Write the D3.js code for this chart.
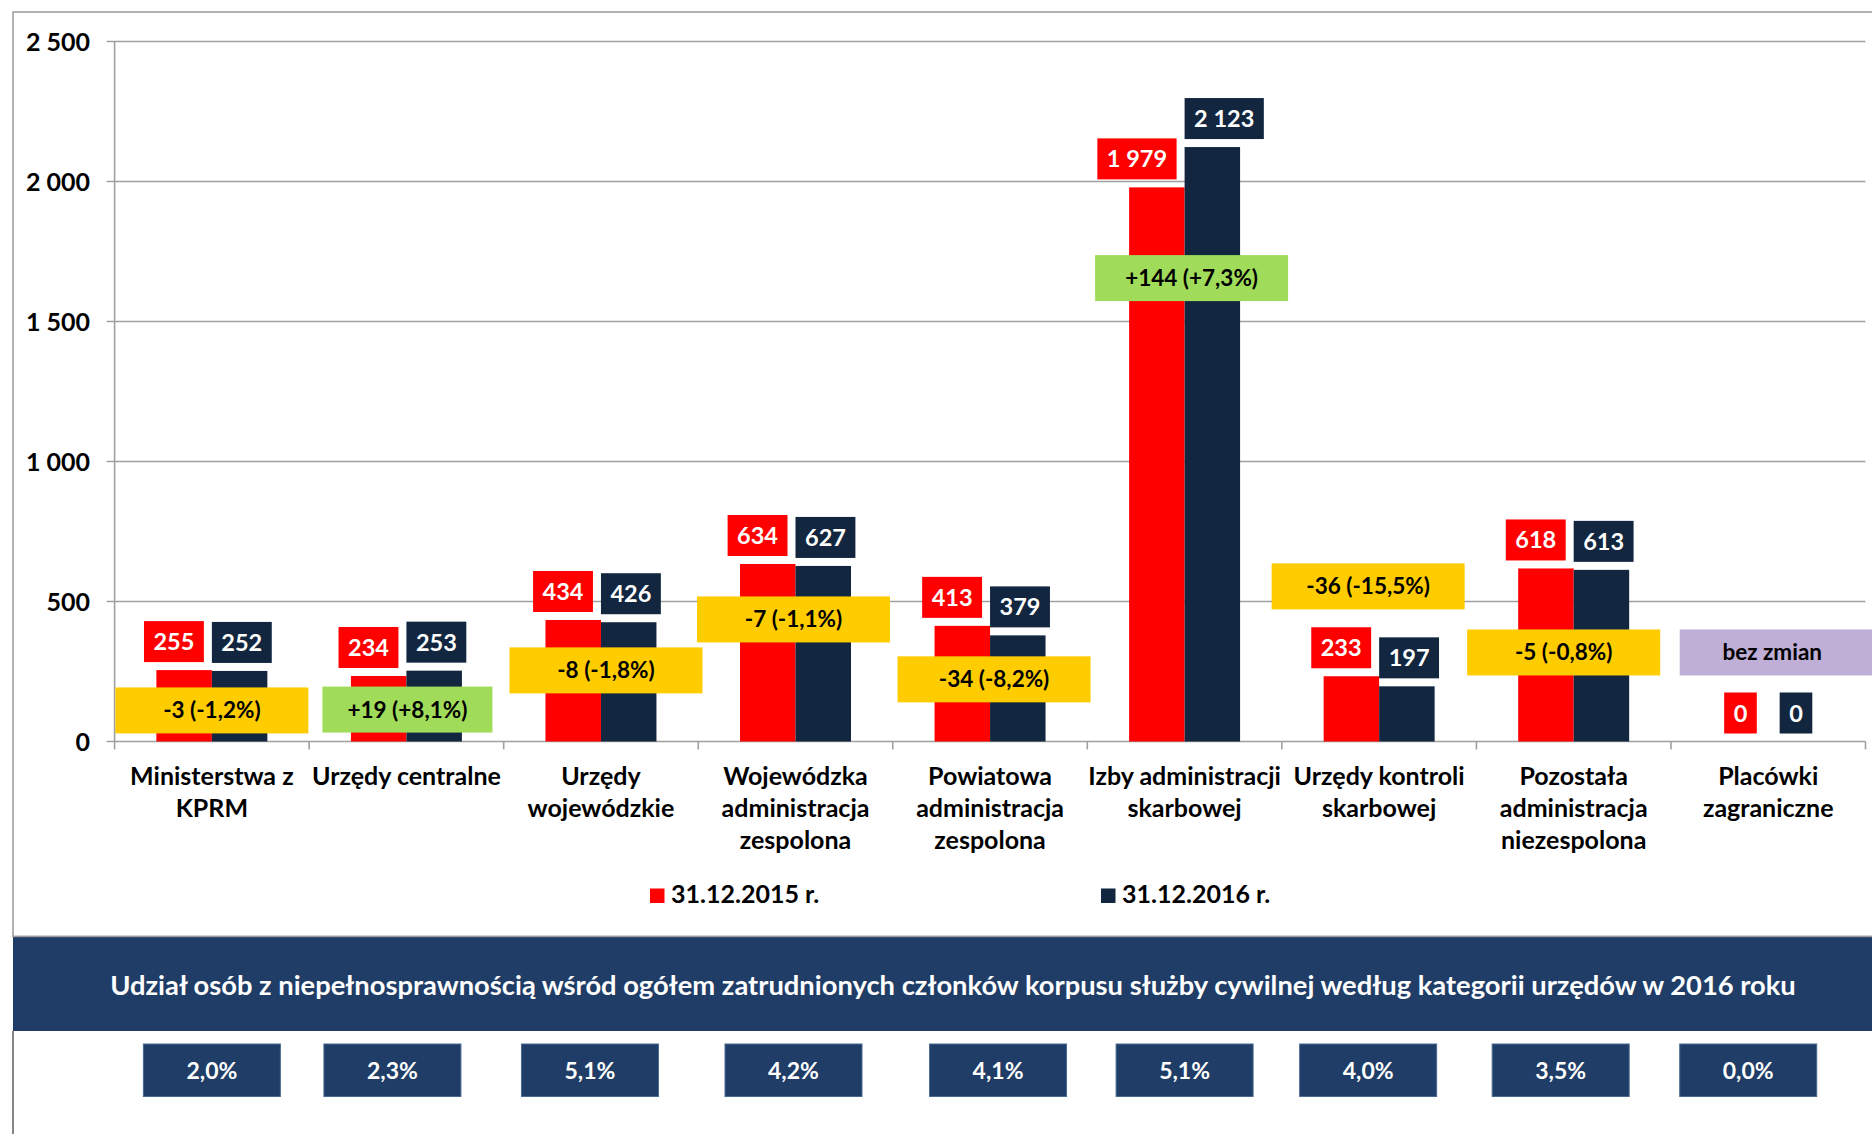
<!DOCTYPE html>
<html>
<head>
<meta charset="utf-8">
<script src="https://cdn.jsdelivr.net/npm/d3@7"></script>
<style>
  html, body { margin: 0; padding: 0; background: #fff; }
  svg { display: block; }
  text { font-family: Lato, "Open Sans", "DejaVu Sans", sans-serif; font-weight: 700; }
</style>
</head>
<body>
<svg id="chart" width="1872" height="1134"></svg>
<script>
// ---------------- DATA ----------------
const categories = [
  "Ministerstwa z\nKPRM",
  "Urzędy centralne",
  "Urzędy\nwojewódzkie",
  "Wojewódzka\nadministracja\nzespolona",
  "Powiatowa\nadministracja\nzespolona",
  "Izby administracji\nskarbowej",
  "Urzędy kontroli\nskarbowej",
  "Pozostała\nadministracja\nniezespolona",
  "Placówki\nzagraniczne"
];
const seriesNames = ["31.12.2015 r.", "31.12.2016 r."];
const values2015 = [255, 234, 434, 634, 413, 1979, 233, 618, 0];
const values2016 = [252, 253, 426, 627, 379, 2123, 197, 613, 0];
// level (in data units) at which each change label is anchored in the original
const deltaAnchor = [111, 114, 254, 436, 222, 1655, 554, 318, 318];
const shares2016 = [2.0, 2.3, 5.1, 4.2, 4.1, 5.1, 4.0, 3.5, 0.0];
const yTicks = [0, 500, 1000, 1500, 2000, 2500];
const noChangeText = "bez zmian";
const bannerTitle = "Udział osób z niepełnosprawnością wśród ogółem zatrudnionych członków korpusu służby cywilnej według kategorii urzędów w 2016 roku";

// ---------------- STYLE / LAYOUT ----------------
const W = 1872, H = 1134;
const plot = { left: 114.6, right: 1865.5, top: 41.5, bottom: 741.5 };
const colors = { s2015: "#FF0000", s2016: "#12263F", grid: "#A0A0A0",
  up: "#A0DC5A", down: "#FFCC00", same: "#BFAED5", banner: "#1F3D66", bannerEdge: "#4B6A92" };
// hand placement nudges (px) of annotation boxes relative to the category centre
const deltaNudge = [0, 1, 5, -2, 4, 7, -11, -10, 8];
const shareNudge = [0, -14, -11, -2, 8, 0, -11, -13, -20];

const loc = d3.formatLocale({ decimal: ",", thousands: " ", grouping: [3], currency: ["", ""], minus: "-" });
const fmtInt = loc.format(",d");
const fmt1 = loc.format(".1f");

const svg = d3.select("#chart");

// chart frame
svg.append("rect").attr("x", 13).attr("y", 12).attr("width", W + 20).attr("height", 936.5 - 12)
  .attr("fill", "none").attr("stroke", "#9a9a9a").attr("stroke-width", 1.5);
svg.append("line").attr("x1", 13).attr("x2", 13).attr("y1", 1031).attr("y2", H)
  .attr("stroke", "#333").attr("stroke-width", 1.2);

// scales
const x = d3.scaleBand().domain(categories).range([plot.left, plot.right]).paddingInner(0).paddingOuter(0);
const x1 = d3.scaleBand().domain(seriesNames).range([0, x.bandwidth()]).paddingInner(0).paddingOuter(0.753);
const y = d3.scaleLinear().domain([0, 2500]).range([plot.bottom, plot.top]);

// gridlines
svg.append("g").selectAll("line").data(yTicks).join("line")
  .attr("x1", plot.left - 8).attr("x2", plot.right)
  .attr("y1", d => y(d)).attr("y2", d => y(d))
  .attr("stroke", colors.grid).attr("stroke-width", 1.6);

// y axis line
svg.append("line").attr("x1", plot.left).attr("x2", plot.left)
  .attr("y1", plot.top).attr("y2", plot.bottom + 8)
  .attr("stroke", colors.grid).attr("stroke-width", 1.6);

// y tick labels
svg.append("g").selectAll("text").data(yTicks).join("text")
  .attr("x", 90).attr("y", d => y(d) + 9)
  .attr("text-anchor", "end").attr("font-size", 25).attr("fill", "#000")
  .text(d => fmtInt(d));

// category ticks
const boundaries = categories.map(c => x(c)).concat([x(categories[categories.length - 1]) + x.bandwidth()]);
svg.append("g").selectAll("line").data(boundaries.slice(1)).join("line")
  .attr("x1", d => d).attr("x2", d => d)
  .attr("y1", plot.bottom).attr("y2", plot.bottom + 8)
  .attr("stroke", colors.grid).attr("stroke-width", 1.6);

// bars
const rows = categories.map((c, i) => ({ c, i, v: [values2015[i], values2016[i]] }));
const gBars = svg.append("g");
rows.forEach(r => {
  seriesNames.forEach((s, k) => {
    const v = r.v[k];
    gBars.append("rect")
      .attr("x", x(r.c) + x1(s)).attr("width", x1.bandwidth())
      .attr("y", y(v)).attr("height", y(0) - y(v))
      .attr("fill", k === 0 ? colors.s2015 : colors.s2016);
  });
});

// value labels (boxes above bars)
const gVal = svg.append("g");
const valFont = 23.5, padX = 9.5, boxH = 41;
rows.forEach(r => {
  const pairCenter = x(r.c) + x.bandwidth() / 2;
  seriesNames.forEach((s, k) => {
    const v = r.v[k];
    const g = gVal.append("g");
    const t = g.append("text").attr("font-size", valFont).attr("fill", "#fff")
      .attr("text-anchor", "middle").text(fmtInt(v));
    const tw = t.node().getComputedTextLength();
    const bw = tw + 2 * padX;
    const barCenter = x(r.c) + x1(s) + x1.bandwidth() / 2;
    let left = barCenter - bw / 2;
    if (k === 0) left = Math.min(left, pairCenter - 8 - bw);
    else left = Math.max(left, pairCenter);
    const bottom = y(v) - 8;
    g.insert("rect", "text").attr("x", left).attr("y", bottom - boxH)
      .attr("width", bw).attr("height", boxH)
      .attr("fill", k === 0 ? colors.s2015 : colors.s2016);
    t.attr("x", left + bw / 2).attr("y", bottom - boxH / 2 + 8.5);
  });
});

// change labels
const gDelta = svg.append("g");
rows.forEach(r => {
  const diff = r.v[1] - r.v[0];
  const pct = r.v[0] ? diff / r.v[0] * 100 : 0;
  const sign = diff > 0 ? "+" : "";
  const label = diff === 0 ? noChangeText : `${sign}${diff} (${sign}${fmt1(pct)}%)`;
  const fill = diff > 0 ? colors.up : diff < 0 ? colors.down : colors.same;
  const bw = r.i === 1 ? 170 : 193, bh = 46;
  const cx = x(r.c) + x.bandwidth() / 2 + deltaNudge[r.i];
  const cy = y(deltaAnchor[r.i]);
  gDelta.append("rect").attr("x", cx - bw / 2).attr("y", cy - bh / 2)
    .attr("width", bw).attr("height", bh).attr("fill", fill);
  gDelta.append("text").attr("x", diff === 0 ? cx - 4 : cx).attr("y", cy + 8)
    .attr("text-anchor", "middle").attr("font-size", 22.5).attr("fill", "#000")
    .text(label);
});

// category labels
const gCat = svg.append("g");
rows.forEach(r => {
  const cx = x(r.c) + x.bandwidth() / 2;
  const t = gCat.append("text").attr("text-anchor", "middle").attr("font-size", 25).attr("fill", "#000");
  r.c.split("\n").forEach((line, j) => {
    t.append("tspan").attr("x", cx).attr("y", 785 + j * 32).text(line);
  });
});

// legend
const legendX = [650, 1101];
const gLeg = svg.append("g");
seriesNames.forEach((s, k) => {
  gLeg.append("rect").attr("x", legendX[k]).attr("y", 888.5).attr("width", 14.5).attr("height", 14.5)
    .attr("fill", k === 0 ? colors.s2015 : colors.s2016);
  gLeg.append("text").attr("x", legendX[k] + 21).attr("y", 902.5)
    .attr("font-size", 25).attr("fill", "#000").text(s);
});

// banner
svg.append("rect").attr("x", 13).attr("y", 936.5).attr("width", W - 13).attr("height", 1031 - 936.5)
  .attr("fill", colors.banner);
svg.append("line").attr("x1", 13).attr("x2", W).attr("y1", 936.5).attr("y2", 936.5)
  .attr("stroke", "#9a9a9a").attr("stroke-width", 1.5);
const title = svg.append("text").attr("x", 953).attr("y", 995)
  .attr("text-anchor", "middle").attr("font-size", 24).attr("fill", "#fff").text(bannerTitle);
const tl = title.node().getComputedTextLength();
title.attr("font-size", 24 * 1686 / tl);

// share boxes
const gShare = svg.append("g");
rows.forEach(r => {
  const cx = x(r.c) + x.bandwidth() / 2 + shareNudge[r.i];
  gShare.append("rect").attr("x", cx - 68.5).attr("y", 1044).attr("width", 137).attr("height", 52.5)
    .attr("fill", colors.banner).attr("stroke", colors.bannerEdge).attr("stroke-width", 1);
  gShare.append("text").attr("x", cx).attr("y", 1078.5)
    .attr("text-anchor", "middle").attr("font-size", 23).attr("fill", "#fff")
    .text(fmt1(shares2016[r.i]) + "%");
});
</script>
</body>
</html>
